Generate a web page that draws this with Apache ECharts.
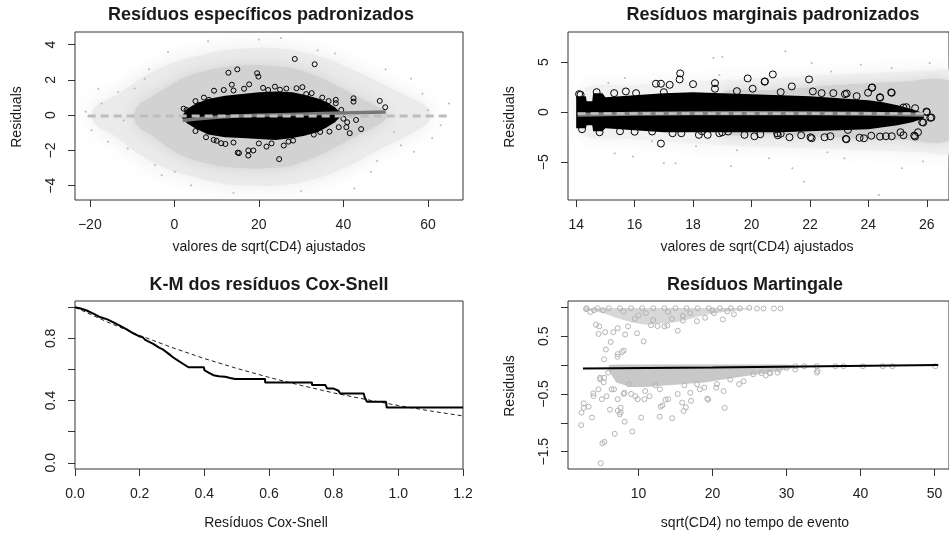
<!DOCTYPE html>
<html><head><meta charset="utf-8">
<script src="https://cdn.jsdelivr.net/npm/echarts@6/dist/echarts.min.js"></script>
<style>html,body{margin:0;padding:0;background:#fff}#c{width:949px;height:534px}</style>
</head><body><div id="c"></div><script>
// ---------- Panel 1: Resíduos específicos padronizados ----------
const p1XTicks = [-20, 0, 20, 40, 60];
const p1YTicks = [-4, -2, 0, 2, 4];
const p1GreyOuterX  = [-19, -14, -9, -4, 0, 6, 12, 18, 24, 30, 36, 42, 48, 54, 60];
const p1GreyOuterHi = [0.4, 1.1, 1.9, 2.6, 3.0, 3.4, 3.7, 3.8, 3.8, 3.6, 3.2, 2.6, 1.9, 1.2, 0.4];
const p1GreyOuterLo = [-0.4, -1.2, -2.1, -2.8, -3.2, -3.6, -3.9, -4.0, -4.0, -3.8, -3.4, -2.8, -2.0, -1.3, -0.4];
const p1GreyInnerX  = [-9, -5, -1, 3, 7, 11, 15, 19, 23, 27, 31, 35, 39, 43, 47, 50];
const p1GreyInnerHi = [0.4, 1.1, 1.7, 2.2, 2.5, 2.7, 2.8, 2.85, 2.8, 2.7, 2.45, 2.1, 1.6, 1.1, 0.6, 0.2];
const p1GreyInnerLo = [-0.5, -1.2, -1.9, -2.4, -2.7, -2.9, -3.0, -3.05, -3.0, -2.9, -2.6, -2.2, -1.7, -1.2, -0.7, -0.2];
const p1BlackX  = [1.8, 3, 5, 8, 12, 16, 20, 24, 28, 31, 34, 36, 38, 39.5];
const p1BlackHi = [-0.05, 0.35, 0.65, 0.92, 1.1, 1.2, 1.3, 1.35, 1.3, 1.15, 0.95, 0.75, 0.45, 0.1];
const p1BlackLo = [-0.15, -0.45, -0.75, -1.1, -1.25, -1.3, -1.35, -1.4, -1.3, -1.15, -0.95, -0.7, -0.4, -0.05];
const p1Outliers = [[28.5,3.19],[33.2,2.89],[12.8,2.41],[14.9,2.6],[19.6,2.38],[19.9,2.19],[13.6,1.73],[17.7,1.75],[9.4,1.39],[11.7,1.43],[26.5,1.51],[28.9,1.53],[30.3,1.59],[22.2,1.43],[31.2,1.2],[38.2,0.68],[38.2,0.87],[42.4,0.96],[42.4,0.77],[48.6,0.81],[49.9,0.45],[39.5,0.3],[40.7,-0.68],[41.5,-1.02],[44.2,-0.79],[40.9,-0.4],[36.7,-0.93],[43,-0.27],[30.2,-1.02],[28.1,-1.44],[25.9,-1.72],[24.8,-2.49],[17.5,-2.0],[15.3,-2.15],[15.0,-2.12],[17.5,-2.29],[18.7,-2.0],[12.1,-1.63],[11.1,-1.59],[21.8,-1.78],[9.3,-1.4],[2.9,0.3],[2.2,0.37],[6.0,0.58],[8.2,0.87],[23.8,1.62],[37.5,0.11],[40,-0.2],[38.9,-0.68],[14,1.4],[16.5,1.5],[21,1.55],[25,1.45],[10,-1.45],[14,-1.55],[20,-1.6],[23,-1.6],[27,-1.5],[33,-1.1],[35,1.0],[36.5,0.8],[5,0.8],[7,1.0],[5,-0.9],[7.5,-1.25],[32.5,1.25],[34.5,-0.95]];
const p1GreyDots = [[-13.3,1.32],[-19.6,-0.85],[-17.2,0.66],[-15.7,-1.51],[-11.0,-1.89],[-9.4,1.51],[-7.0,2.07],[-1.5,3.59],[0.1,-3.21],[4.0,-3.97],[-4.6,-2.83],[56,2.07],[65,0.66],[63,-0.57],[56.7,-2.08],[53.6,-1.70],[58.7,1.22],[46.5,-3.21],[33.9,3.68],[25.2,4.38],[42.6,-4.16],[52,-0.95],[-18,1.5],[-12,-0.3],[-21,0.2],[61,-1.3],[50,2.6],[48,-2.6],[8,4.2],[14,-4.4],[30,-4.3],[-3,-3.4],[-6,2.6],[60,0.3],[38,3.5],[20,4.3]];
const p1SmoothX = [2, 5, 10, 15, 20, 25, 30, 35, 40, 45, 50];
const p1SmoothY = [-0.3, -0.22, -0.12, -0.05, 0.0, 0.03, 0.06, 0.09, 0.12, 0.15, 0.18];
const p1RefX = [-20.5, 65];
const p1RefY = [-0.05, -0.05];

// ---------- Panel 2: Resíduos marginais padronizados ----------
const p2XTicks = [14, 16, 18, 20, 22, 24, 26];
const p2YTicks = [-5, 0, 5];
const p2GreyOuterX  = [14.2, 16, 18, 20, 22, 24, 25, 26, 26.8];
const p2GreyOuterHi = [2.2, 2.7, 3.0, 3.3, 3.6, 3.9, 4.0, 4.1, 4.1];
const p2GreyOuterLo = [-2.2, -2.7, -3.1, -3.4, -3.6, -3.8, -3.9, -4.0, -4.0];
const p2GreyInnerX  = [19, 20.5, 22, 23.5, 25, 26.8];
const p2GreyInnerHi = [1.9, 2.2, 2.5, 2.8, 3.0, 3.0];
const p2GreyInnerLo = [-2.0, -2.2, -2.4, -2.6, -2.7, -2.7];
const p2BlackX  = [14.0, 14.33, 14.36, 14.55, 14.58, 14.9, 15.0, 16, 17, 18, 19, 20, 21, 22, 23, 24, 24.5, 25, 25.5, 25.9];
const p2BlackHi = [1.6, 1.6, 1.1, 1.1, 1.9, 1.9, 1.5, 1.7, 1.9, 2.0, 1.9, 1.8, 1.7, 1.6, 1.4, 1.2, 1.0, 0.7, 0.3, -0.1];
const p2BlackLo = [-1.6, -1.6, -1.3, -1.3, -1.9, -1.9, -1.6, -1.8, -2.0, -2.0, -2.0, -2.0, -2.0, -1.9, -1.8, -1.7, -1.5, -1.3, -1.0, -0.6];
const p2Outliers = [[17.56,3.87],[17.54,3.27],[20.73,3.77],[19.87,3.37],[20.45,3.04],[21.97,3.27],[24.12,2.44],[23.99,1.94],[24.8,1.94],[24.4,1.44],[16.9,-3.13],[16.73,2.84],[16.9,2.84],[20.04,2.34],[18.75,2.34],[23.26,1.87],[23.6,1.6],[23.23,-2.66],[22.02,-2.5],[22.7,-2.4],[24.1,-2.35],[23.7,-2.55],[24.6,-2.4],[25.57,-2.33],[25.7,-2.0],[25.84,-1.0],[26.12,-0.56],[26.0,0.0],[25.6,0.4],[25.3,0.5],[25.2,-2.3],[25.1,-2.0],[20.9,-2.3],[20.3,-2.2],[19.0,-2.0],[18.3,-1.9],[17.2,2.73],[18.0,2.8],[18.75,2.9],[15.7,2.07],[16.05,1.9],[15.3,1.9],[14.15,1.74],[16.6,-1.93],[17.3,-2.1],[18.2,-2.26],[18.5,-2.26],[18.9,-2.1],[19.2,-1.93],[19.76,-2.26],[20.46,3.07],[21.38,2.57],[22.1,2.07],[22.4,1.9],[23.2,1.8],[24.13,2.47],[24.4,1.5],[24.78,1.97],[25.2,0.47],[25.99,0.07],[26.16,-0.53],[25.88,-1.03],[25.6,-2.43],[24.8,-2.4],[24.4,-2.43],[23.85,-2.6],[23.3,-1.77],[23.25,-2.7],[22.06,-2.6],[21.3,-2.5],[20.88,-2.1],[20.1,-2.4],[22.5,-2.5],[21.7,-2.3],[14.1,1.8],[14.2,-1.7],[14.7,2.0],[14.8,-2.0],[15.5,-1.9],[16,-1.95],[17,2.0],[19.5,2.1],[21,2.0],[22.8,1.9],[21,-2.15],[17.6,-2.1]];
const p2GreyDots = [[15.1,2.9],[15.66,3.4],[15.32,-4.1],[15.94,-4.43],[17.0,-5.1],[17.4,-5.1],[18.7,5.4],[19.0,5.5],[19.3,-5.4],[19.5,-3.8],[18.1,-3.4],[16.6,-2.9],[18.9,3.7],[21.16,6.07],[22.06,4.9],[23.74,4.74],[26.1,4.9],[21.8,-6.93],[21.4,-5.6],[24.36,-8.26],[25.15,-5.6],[25.87,-4.93],[23.18,-4.6],[22.6,-4.0],[20.6,-4.6],[22.73,4.07],[24.8,4.4]];
const p2SmoothX = [14.05, 16, 18, 20, 22, 24, 25.9];
const p2SmoothY = [-0.25, -0.15, -0.1, -0.08, -0.1, -0.15, -0.25];
const p2RefX = [14.05, 26.06];
const p2RefY = [-0.12, -0.12];

// ---------- Panel 3: K-M dos resíduos Cox-Snell ----------
const p3XTicks = [0, 0.2, 0.4, 0.6, 0.8, 1.0, 1.2];
const p3YTicks = [0, 0.2, 0.4, 0.6, 0.8, 1.0];
const p3YLabels = [0, 0.4, 0.8];
const p3KmX = [0,0.02,0.036,0.06,0.077,0.1,0.119,0.14,0.16,0.18,0.201,0.21,0.217,0.242,0.26,0.273,0.29,0.304,0.32,0.335,0.351,0.399,0.40,0.413,0.428,0.445,0.464,0.48,0.495,0.588,0.588,0.733,0.733,0.774,0.78,0.80,0.815,0.82,0.893,0.896,0.903,0.962,0.964,1.2];
const p3KmY = [1.0,0.99,0.979,0.955,0.937,0.922,0.903,0.88,0.858,0.832,0.811,0.806,0.79,0.764,0.74,0.727,0.7,0.677,0.655,0.635,0.614,0.614,0.596,0.58,0.563,0.556,0.553,0.545,0.538,0.538,0.516,0.516,0.5,0.5,0.477,0.477,0.463,0.445,0.445,0.42,0.392,0.392,0.355,0.355];
const p3RefX = [0, 0.1, 0.2, 0.3, 0.4, 0.5, 0.6, 0.7, 0.8, 0.9, 1.0, 1.1, 1.2];
const p3RefY = [1.0, 0.905, 0.819, 0.741, 0.67, 0.607, 0.549, 0.497, 0.449, 0.407, 0.368, 0.333, 0.301];

// ---------- Panel 4: Resíduos Martingale ----------
const p4XTicks = [10, 20, 30, 40, 50];
const p4YTicks = [-1.5, -1, -0.5, 0, 0.5, 1];
const p4YLabels = [-1.5, -0.5, 0.5];
const p4UpperX  = [2.8, 5, 7, 9, 11, 13, 15, 17, 19, 21, 23, 25.3];
const p4UpperHi = [0.99, 0.99, 0.99, 0.99, 0.99, 0.99, 0.99, 0.99, 0.99, 0.99, 0.99, 0.99];
const p4UpperLo = [0.95, 0.91, 0.82, 0.74, 0.7, 0.72, 0.74, 0.8, 0.87, 0.91, 0.94, 0.97];
const p4MainX  = [6.0, 7, 9, 11, 13, 15, 17, 19, 21, 23, 25, 27, 29, 31];
const p4MainHi = [0.0, 0.01, 0.01, 0.01, 0.01, 0.01, 0.01, 0.01, 0.01, 0.01, 0.01, 0.01, 0.01, 0.0];
const p4MainLo = [-0.1, -0.3, -0.38, -0.38, -0.36, -0.34, -0.32, -0.3, -0.26, -0.22, -0.18, -0.14, -0.1, -0.05];
const p4Points = [[4.25,0.70],[4.7,0.67],[4.6,0.54],[5.5,0.57],[6.24,0.40],[6.6,0.57],[7.2,0.64],[8.2,0.53],[9.8,0.55],[10.7,0.41],[8.6,0.67],[11.7,0.69],[13.5,0.67],[15.3,0.595],[16.0,0.77],[17.9,0.76],[19.0,0.82],[20.2,0.9],[22.0,0.93],[23.7,0.98],[24.97,0.99],[5.6,0.27],[8.0,0.25],[5.35,0.1],[7.17,0.145],[7.2,0.19],[7.78,0.225],[12.57,0.675],[13.9,0.686],[21.4,0.79],[22.9,0.88],[2.92,0.97],[26.9,0.98],[28.3,0.98],[29.2,0.98],[3.5,0.92],[4,0.95],[26,0.98],
  [3,0.985],[4.5,0.985],[6,0.985],[7.5,0.985],[9,0.985],[10.5,0.985],[12,0.985],[13.5,0.985],[15,0.985],[16.5,0.985],[18,0.985],[19.5,0.985],[21,0.985],[22.5,0.985],[5.2,0.95],[8,0.93],[11,0.9],[14,0.92],[17,0.9],[20,0.95],[9.5,0.8],[12,0.78],[14.5,0.8],[10,0.86],[16,0.85],
  [4.82,-0.247],[4.6,-0.42],[3.93,-0.536],[3.9,-0.49],[2.6,-0.663],[2.6,-0.74],[3.27,-0.72],[2.3,-0.824],[3.72,-0.91],[2.26,-1.04],[5.13,-1.355],[5.4,-1.33],[4.9,-1.70],[6.8,-1.19],[9.16,-1.15],[8.14,-0.98],[7.47,-0.853],[7.6,-0.82],[7.2,-0.79],[7.6,-0.74],[6.15,-0.77],[5.05,-0.59],[5.7,-0.54],[6.37,-0.42],[7.2,-0.59],[4.8,-0.22],[5.3,-0.3],[5.9,-0.13],[10.36,-0.91],[12.88,-0.893],[14.55,-0.92],[16.1,-0.795],[13.23,-0.70],[13.0,-0.72],[13.65,-0.6],[15.9,-0.65],[19.3,-0.58],[21.65,-0.74],[9.9,-0.59],[10.8,-0.59],[9.0,-0.5],[11.5,-0.54],[8.1,-0.48],[17.0,-0.48],[18.3,-0.42],[20.5,-0.39],[23.6,-0.33],[16.4,-0.73],
  [5.35,-0.22],[6.7,-0.42],[8.0,-0.5],[9.56,-0.54],[10.9,-0.45],[12.9,-0.42],[14.0,-0.59],[15.3,-0.5],[17.1,-0.62],[18.9,-0.39],[19.4,-0.6],[21.5,-0.45],[22.4,-0.25],[24.2,-0.28],[25.5,-0.16],[27.7,-0.13],[28.8,-0.13],[8.7,-0.33],[12.3,-0.35],[16.2,-0.35],[17.9,-0.33],[20.6,-0.33],
  [31.2,-0.02],[32.4,-0.02],[34.1,-0.02],[36.6,-0.02],[37.7,-0.02],[40.3,-0.02],[43.0,-0.02],[44.3,-0.02],[50.1,-0.02],[34.1,-0.13],[34.2,-0.1],[31.2,-0.075],[27.2,-0.18],[26.6,-0.14],[27.8,-0.14],[29,-0.08],[30,-0.05]];
const p4LineX = [2.5, 20, 35, 50.5];
const p4LineY = [-0.06, -0.04, -0.02, 0.0];

// ---------- helpers ----------
const FONT = '"Liberation Sans", Arial, Helvetica, sans-serif';
const zip = (xs, ys) => xs.map((x, i) => [x, ys[i]]);
const fmt = dec => v => Number(v).toFixed(dec).replace('-', '\u2212');

function band(name, g, xs, lo, hi, fill, blur, smooth) {
  return {
    type: 'custom', name, xAxisIndex: g, yAxisIndex: g, silent: true, clip: true,
    data: xs.map((x, i) => [x, lo[i], hi[i]]),
    encode: { x: 0, y: [1, 2] },
    renderItem: function (params, api) {
      if (params.dataIndex !== 0) return null;
      const pts = [];
      for (let i = 0; i < xs.length; i++) pts.push(api.coord([xs[i], hi[i]]));
      for (let i = xs.length - 1; i >= 0; i--) pts.push(api.coord([xs[i], lo[i]]));
      const style = { fill: fill };
      if (blur) { style.shadowBlur = blur; style.shadowColor = fill; }
      return { type: 'polygon', shape: { points: pts, smooth: smooth || 0 }, style };
    }
  };
}
function dots(g, data, size, fill, stroke, bw) {
  return { type: 'scatter', xAxisIndex: g, yAxisIndex: g, data, symbol: 'circle', symbolSize: size, silent: true,
    itemStyle: { color: fill, borderColor: stroke, borderWidth: bw, opacity: 1 } };
}
function line(g, data, color, width, dash) {
  return { type: 'line', xAxisIndex: g, yAxisIndex: g, data, symbol: 'none', silent: true,
    lineStyle: { color, width, type: dash || 'solid', cap: 'butt' } };
}
function xAx(g, min, max, ticks, labels, dec) {
  return { type: 'value', gridIndex: g, min, max,
    axisLine: { show: false, onZero: false },
    splitLine: { show: false },
    axisTick: { show: true, inside: false, length: 7, lineStyle: { color: '#333', width: 1 }, customValues: ticks },
    axisLabel: { customValues: labels, formatter: fmt(dec), fontSize: 14, color: '#222', fontFamily: FONT, margin: 18 } };
}
function yAx(g, min, max, ticks, labels, dec) {
  return { type: 'value', gridIndex: g, min, max,
    axisLine: { show: false, onZero: false },
    splitLine: { show: false },
    axisTick: { show: true, inside: false, length: 7, lineStyle: { color: '#333', width: 1 }, customValues: ticks },
    axisLabel: { customValues: labels, formatter: fmt(dec), fontSize: 14, color: '#222', fontFamily: FONT, rotate: 90, margin: 17 } };
}
function txt(s, x, y, size, bold, rot) {
  return { type: 'text', x, y, rotation: rot ? Math.PI / 2 : 0, silent: true,
    style: { text: s, font: (bold ? 'bold ' : '') + size + 'px ' + FONT, fill: '#1a1a1a', textAlign: 'center', textVerticalAlign: 'middle' } };
}

const gridBase = { show: true, borderColor: '#333', borderWidth: 1, backgroundColor: 'transparent', containLabel: false };
const option = {
  animation: false,
  backgroundColor: '#fff',
  grid: [
    Object.assign({ left: 75, top: 32, width: 388, height: 168 }, gridBase),
    Object.assign({ left: 568, top: 32, width: 388, height: 168 }, gridBase),
    Object.assign({ left: 75, top: 301, width: 388, height: 168 }, gridBase),
    Object.assign({ left: 568, top: 301, width: 388, height: 168 }, gridBase)
  ],
  xAxis: [
    xAx(0, -23.5, 68.3, p1XTicks, p1XTicks, 0),
    xAx(1, 13.72, 26.76, p2XTicks, p2XTicks, 0),
    xAx(2, 0, 1.2, p3XTicks, p3XTicks, 1),
    xAx(3, 0.48, 51.95, p4XTicks, p4XTicks, 0)
  ],
  yAxis: [
    yAx(0, -4.81, 4.72, p1YTicks, p1YTicks, 0),
    yAx(1, -8.76, 8.0, p2YTicks, p2YTicks, 0),
    yAx(2, -0.04, 1.04, p3YTicks, p3YLabels, 1),
    yAx(3, -1.80, 1.11, p4YTicks, p4YLabels, 1)
  ],
  graphic: [
    txt('Resíduos específicos padronizados', 261, 15, 18, true),
    txt('Resíduos marginais padronizados', 773, 15, 18, true),
    txt('K-M dos resíduos Cox-Snell', 269, 285, 18, true),
    txt('Resíduos Martingale', 755, 285, 18, true),
    txt('valores de sqrt(CD4) ajustados', 269, 247, 14, false),
    txt('valores de sqrt(CD4) ajustados', 757, 247, 14, false),
    txt('Resíduos Cox-Snell', 266, 523, 14, false),
    txt('sqrt(CD4) no tempo de evento', 755, 523, 14, false),
    txt('Residuals', 17, 117, 14, false, true),
    txt('Residuals', 510, 117, 14, false, true),
    txt('Residuals', 510, 386, 14, false, true)
  ],
  series: [
    band('p1 grey outer', 0, p1GreyOuterX, p1GreyOuterLo, p1GreyOuterHi, '#ebebeb', 22, 0.4),
    band('p1 grey inner', 0, p1GreyInnerX, p1GreyInnerLo, p1GreyInnerHi, '#d2d2d2', 16, 0.4),
    dots(0, p1GreyDots, 2, '#b8b8b8', '#b8b8b8', 0),
    band('p1 black', 0, p1BlackX, p1BlackLo, p1BlackHi, '#000'),
    dots(0, p1Outliers, 5, 'rgba(0,0,0,0)', '#000', 1),
    line(0, zip(p1SmoothX, p1SmoothY), '#777', 3.5),
    line(0, zip(p1RefX, p1RefY), '#bdbdbd', 3, [8, 5]),

    band('p2 grey outer', 1, p2GreyOuterX, p2GreyOuterLo, p2GreyOuterHi, '#f1f1f1', 20, 0.3),
    band('p2 grey inner', 1, p2GreyInnerX, p2GreyInnerLo, p2GreyInnerHi, '#d2d2d2', 14, 0.3),
    dots(1, p2GreyDots, 2, '#b8b8b8', '#b8b8b8', 0),
    band('p2 black', 1, p2BlackX, p2BlackLo, p2BlackHi, '#000'),
    dots(1, p2Outliers, 7, 'rgba(0,0,0,0)', '#000', 1),
    line(1, zip(p2SmoothX, p2SmoothY), '#808080', 4),
    line(1, zip(p2RefX, p2RefY), '#c4c4c4', 2.5, [8, 5]),

    line(2, zip(p3RefX, p3RefY), '#222', 1, [4, 3]),
    line(2, zip(p3KmX, p3KmY), '#000', 2),

    band('p4 upper', 3, p4UpperX, p4UpperLo, p4UpperHi, '#d8d8d8'),
    band('p4 main', 3, p4MainX, p4MainLo, p4MainHi, '#c8c8c8'),
    dots(3, p4Points, 5, 'rgba(0,0,0,0)', '#b4b4b4', 1),
    line(3, zip(p4LineX, p4LineY), '#000', 2)
  ]
};
const chart = echarts.init(document.getElementById('c'), null, { renderer: 'canvas' });
chart.setOption(option);
</script></body></html>
